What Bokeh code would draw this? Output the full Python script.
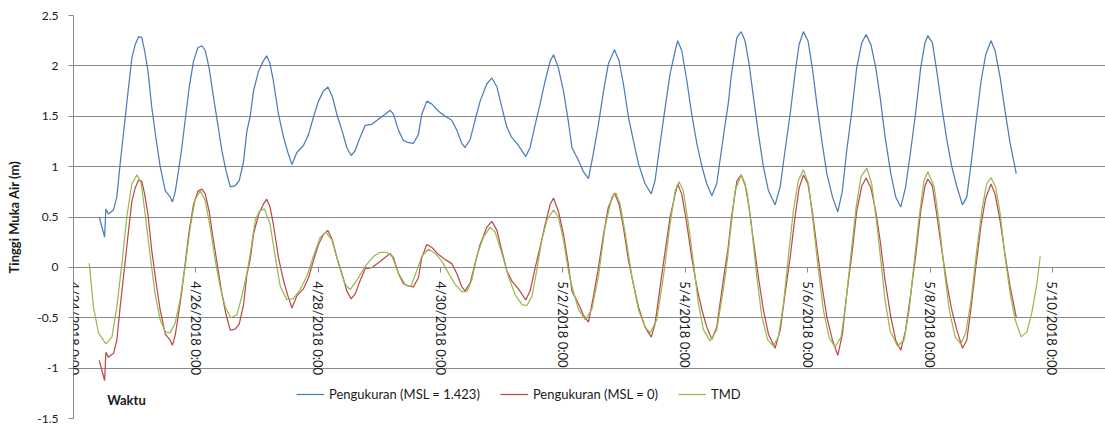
import math
from bokeh.plotting import figure
from bokeh.models import (Range1d, FixedTicker, Legend, LegendItem, Label, LabelSet,
                          NumeralTickFormatter, ColumnDataSource)
from bokeh.core.properties import value
from bokeh.embed import file_html
from bokeh.resources import INLINE

# time in hours since 4/24/2018 0:00
hours_meas = [10.1, 12.2, 12.7, 13.7, 15.7, 17.0, 18.3, 20.3, 21.6, 22.9, 24.2, 25.5, 26.8, 27.9, 29.2,
              30.7, 32.3, 34.0, 36.0, 37.9, 38.8, 39.9, 41.2, 42.5, 43.8, 45.4, 47.1, 48.8, 50.4, 51.7,
              53.2, 54.9, 56.6, 58.2, 59.8, 61.5, 63.4, 65.0, 66.7, 68.0, 69.3, 70.6, 72.6, 74.5, 75.8,
              77.1, 78.4, 80.4, 82.4, 84.1, 85.7, 87.6, 90.2, 92.2, 94.1, 96.1, 98.0, 99.8, 101.6, 103.3,
              105.3, 107.2, 108.9, 110.5, 112.4, 114.4, 117.0, 119.6, 122.2, 124.2, 125.5, 127.5, 129.4,
              131.0, 133.3, 135.3, 136.6, 138.6, 140.6, 143.2, 145.8, 148.4, 150.4, 152.3, 153.6, 155.6,
              157.5, 159.5, 162.1, 164.1, 166.1, 168.0, 170.0, 171.9, 174.5, 177.4, 179.1, 181.1, 183.0,
              185.0, 187.0, 188.3, 190.2, 192.2, 194.1, 195.5, 198.1, 200.0, 202.0, 203.9, 205.9, 207.9,
              209.8, 212.2, 214.0, 215.7, 217.7, 219.6, 221.6, 224.2, 226.6, 228.1, 230.1, 232.1, 234.0,
              236.0, 237.0, 238.6, 240.6, 242.5, 244.5, 246.5, 248.4, 250.4, 252.3, 254.3, 255.6, 256.8,
              258.0, 260.2, 261.9, 263.4, 265.0, 266.7, 268.7, 270.6, 272.6, 275.2, 277.2, 279.1, 281.1,
              283.0, 284.6, 286.3, 288.1, 289.8, 291.6, 293.5, 295.5, 297.7, 299.8, 301.6, 303.3, 305.3,
              307.2, 309.2, 310.9, 312.8, 314.7, 316.4, 318.3, 320.6, 322.5, 324.5, 326.4, 328.4, 330.4,
              332.3, 334.0, 335.1, 336.9, 338.6, 340.6, 342.6, 344.5, 346.5, 348.7, 350.4, 352.1, 353.9,
              356.0, 357.8, 359.9, 361.5, 363.5, 365.4, 367.4, 369.8]
level_meas = [0.50, 0.30, 0.58, 0.53, 0.57, 0.70, 1.03, 1.49, 1.79, 2.08, 2.21, 2.29, 2.28, 2.15, 1.95,
              1.59, 1.29, 1.00, 0.76, 0.70, 0.65, 0.75, 0.96, 1.19, 1.46, 1.79, 2.05, 2.18, 2.20, 2.15,
              1.98, 1.69, 1.42, 1.16, 0.96, 0.80, 0.81, 0.86, 1.05, 1.35, 1.50, 1.75, 1.95, 2.05, 2.10,
              2.02, 1.85, 1.52, 1.29, 1.14, 1.02, 1.14, 1.21, 1.32, 1.49, 1.65, 1.75, 1.79, 1.69, 1.52,
              1.36, 1.19, 1.11, 1.16, 1.29, 1.41, 1.42, 1.47, 1.52, 1.56, 1.52, 1.36, 1.26,
              1.24, 1.23, 1.32, 1.52, 1.65, 1.62, 1.55, 1.50, 1.46, 1.36, 1.23, 1.19, 1.27,
              1.46, 1.65, 1.82, 1.88, 1.79, 1.59, 1.39, 1.29, 1.21, 1.10, 1.19, 1.42, 1.62,
              1.85, 2.05, 2.11, 1.98, 1.75, 1.45, 1.19, 1.06, 0.95, 0.88, 1.13, 1.42, 1.75,
              2.02, 2.16, 2.05, 1.82, 1.49, 1.26, 1.03, 0.83, 0.73, 0.86, 1.23, 1.59, 1.92,
              2.15, 2.25, 2.15, 1.85, 1.52, 1.23, 1.00, 0.83, 0.71, 0.83, 1.19, 1.42, 1.62,
              1.90, 2.28, 2.34, 2.25, 2.02, 1.69, 1.32, 1.00, 0.76, 0.62, 0.80, 1.16, 1.52,
              1.92, 2.21, 2.34, 2.25, 1.98, 1.62, 1.26, 0.93, 0.70, 0.55, 0.76, 1.16, 1.55,
              1.98, 2.23, 2.31, 2.21, 1.98, 1.69, 1.30, 0.93, 0.70, 0.60, 0.80, 1.16, 1.55,
              1.98, 2.23, 2.30, 2.23, 1.95, 1.59, 1.26, 1.00, 0.80, 0.62, 0.70, 1.03, 1.42,
              1.85, 2.11, 2.25, 2.15, 1.88, 1.55, 1.23, 0.93]
msl = 1.423

hours_tmd = [6.2, 7.8, 9.8, 12.7, 15.1, 17.0, 19.0, 20.9, 22.9, 24.9, 26.6, 28.1, 30.1, 32.0, 34.0,
             36.0, 37.9, 39.9, 41.8, 43.8, 45.8, 47.7, 49.7, 51.6, 53.6, 55.6, 57.5, 59.5, 61.7, 64.1,
             66.0, 68.0, 69.3, 71.3, 73.0, 74.9, 77.1, 79.1, 81.1, 83.7, 86.3, 88.9, 91.5, 94.1, 96.8,
             99.0, 101.4, 103.9, 106.6, 108.5, 111.1, 114.4, 117.7, 120.3, 122.9, 124.9, 127.5, 130.1,
             132.3, 134.7, 136.6, 139.2, 141.9, 144.5, 147.1, 149.7, 152.3, 154.3, 156.2, 158.2, 160.8,
             163.4, 165.4, 168.0, 170.6, 173.2, 175.9, 177.8, 179.8, 181.7, 183.7, 185.7, 188.3, 190.2,
             192.2, 194.1, 195.5, 198.1, 200.7, 203.3, 205.9, 208.5, 211.2, 212.7, 214.4, 216.4, 219.0,
             221.6, 224.2, 226.2, 228.8, 231.4, 234.0, 236.0, 237.5, 239.2, 241.2, 243.2, 245.1, 247.1,
             249.7, 252.3, 254.9, 256.6, 257.6, 259.5, 261.9, 264.1, 266.1, 268.0, 270.0, 272.3, 274.5,
             276.5, 278.5, 280.4, 282.4, 284.3, 286.3, 288.3, 290.2, 292.2, 294.1, 296.4, 298.7, 301.1,
             302.9, 305.0, 307.0, 308.9, 311.2, 313.1, 315.1, 317.1, 318.3, 320.3, 323.2, 325.8, 327.8,
             329.7, 331.7, 333.6, 335.1, 337.6, 339.6, 341.6, 343.5, 345.8, 348.0, 350.0, 352.1, 354.3,
             356.5, 358.2, 359.9, 361.7, 363.5, 365.4, 367.4, 369.4, 371.7, 374.0, 375.9, 377.9, 379.2]
level_tmd = [0.04, -0.39, -0.65, -0.76, -0.69, -0.39, 0.04, 0.50, 0.83, 0.92, 0.83, 0.53, 0.11, -0.26, -0.52,
             -0.64, -0.65, -0.55, -0.32, 0.01, 0.40, 0.67, 0.76, 0.67, 0.40, 0.07, -0.19, -0.39, -0.50, -0.47,
             -0.29, -0.06, 0.13, 0.47, 0.56, 0.58, 0.43, 0.11, -0.19, -0.32, -0.31, -0.22, -0.09, 0.11, 0.30,
             0.35, 0.27, 0.04, -0.17, -0.22, -0.13, 0.01, 0.11, 0.15, 0.15, 0.11, -0.06, -0.17,
             -0.19, -0.03, 0.11, 0.18, 0.14, 0.06, -0.06, -0.17, -0.24, -0.24, -0.13, 0.11, 0.30,
             0.40, 0.35, 0.14, -0.09, -0.27, -0.37, -0.38, -0.29, -0.03, 0.27, 0.47, 0.57, 0.50,
             0.27, -0.03, -0.19, -0.42, -0.52, -0.42, -0.09, 0.40, 0.70, 0.74, 0.63, 0.34, -0.09,
             -0.42, -0.59, -0.65, -0.52, -0.09, 0.43, 0.76, 0.85, 0.76, 0.43, 0.04, -0.36, -0.62,
             -0.73, -0.62, -0.22, 0.10, 0.34, 0.76, 0.92, 0.76, 0.37, -0.09, -0.49, -0.72, -0.78,
             -0.69, -0.36, 0.11, 0.57, 0.86, 0.97, 0.83, 0.43, -0.03, -0.42, -0.70, -0.79, -0.69,
             -0.36, 0.14, 0.60, 0.90, 0.985, 0.83, 0.43, -0.03, -0.32, -0.63, -0.78, -0.72, -0.42,
             0.04, 0.50, 0.86, 0.95, 0.80, 0.43, -0.03, -0.42, -0.69, -0.76, -0.65, -0.32, 0.17,
             0.60, 0.83, 0.89, 0.80, 0.53, 0.11, -0.26, -0.52, -0.69, -0.64, -0.45, -0.16, 0.11]

tick_hours = [0, 48, 96, 144, 192, 240, 288, 336, 384]
tick_labels = ["4/24/2018 0:00", "4/26/2018 0:00", "4/28/2018 0:00", "4/30/2018 0:00",
               "5/2/2018 0:00", "5/4/2018 0:00", "5/6/2018 0:00", "5/8/2018 0:00", "5/10/2018 0:00"]
y_ticks = [-1.5, -1, -0.5, 0, 0.5, 1, 1.5, 2, 2.5]

series_names = ["Pengukuran (MSL = 1.423)", "Pengukuran (MSL = 0)", "TMD"]
series_colors = ["#4A7EBB", "#BE4B48", "#98B954"]

FONT = "Lato"
TEXT = "#1a1a1a"
GRID = "#8a8a8a"

level_meas0 = [v - msl for v in level_meas]

p = figure(width=1105, height=426, output_backend="svg", toolbar_location=None,
           x_range=Range1d(0, 404.8), y_range=Range1d(-1.5, 2.5),
           min_border_left=73, min_border_right=0, min_border_top=15, min_border_bottom=8)
p.outline_line_color = None
p.background_fill_color = "white"
p.border_fill_color = "white"

r1 = p.line(hours_meas, level_meas, line_color=series_colors[0], line_width=1.25)
r2 = p.line(hours_meas, level_meas0, line_color=series_colors[1], line_width=1.25)
r3 = p.line(hours_tmd, level_tmd, line_color=series_colors[2], line_width=1.25)

# grid
p.xgrid.visible = False
p.ygrid.ticker = FixedTicker(ticks=y_ticks)
p.ygrid.grid_line_color = GRID
p.ygrid.grid_line_width = 1

# y axis
yax = p.yaxis[0]
yax.ticker = FixedTicker(ticks=y_ticks)
yax.formatter = NumeralTickFormatter(format="0.[0]")
yax.axis_line_color = GRID
yax.major_tick_line_color = GRID
yax.major_tick_out = 5
yax.major_tick_in = 0
yax.minor_tick_line_color = None
yax.major_label_standoff = 10
yax.major_label_text_font = FONT
yax.major_label_text_font_size = "12px"
yax.major_label_text_color = TEXT
yax.axis_label = "Tinggi Muka Air (m)"
yax.axis_label_text_font = FONT
yax.axis_label_text_font_style = "bold"
yax.axis_label_text_font_size = "13px"
yax.axis_label_text_color = TEXT
yax.axis_label_standoff = 12

# x axis crossing at y = 0 (line and ticks); labels drawn as unclipped annotations
xax = p.xaxis[0]
xax.fixed_location = 0
xax.ticker = FixedTicker(ticks=tick_hours)
xax.major_label_text_color = None
xax.axis_line_color = GRID
xax.major_tick_line_color = GRID
xax.major_tick_out = 5
xax.major_tick_in = 0
xax.minor_tick_line_color = None

tick_src = ColumnDataSource(dict(x=tick_hours, y=[0] * len(tick_hours), text=tick_labels))
p.add_layout(LabelSet(source=tick_src, x="x", y="y", text="text", angle=-math.pi / 2,
                      y_offset=-14, text_align="left", text_baseline="middle",
                      text_font=value(FONT), text_font_size=value("13px"),
                      text_color=value(TEXT)))

legend = Legend(items=[LegendItem(label=series_names[0], renderers=[r1]),
                       LegendItem(label=series_names[1], renderers=[r2]),
                       LegendItem(label=series_names[2], renderers=[r3])],
                orientation="horizontal", location=(223, 14),
                padding=0, margin=0, spacing=20, label_standoff=5,
                glyph_width=28, glyph_height=20, label_height=20,
                border_line_color=None, background_fill_alpha=0,
                label_text_font=FONT, label_text_font_size="13px", label_text_color=TEXT)
p.add_layout(legend)

p.add_layout(Label(x=13.2, y=-1.32, text="Waktu", text_font=FONT, text_font_style="bold",
                   text_font_size="13px", text_color=TEXT, text_baseline="alphabetic"))

open("out.html", "w").write(file_html(p, INLINE))
